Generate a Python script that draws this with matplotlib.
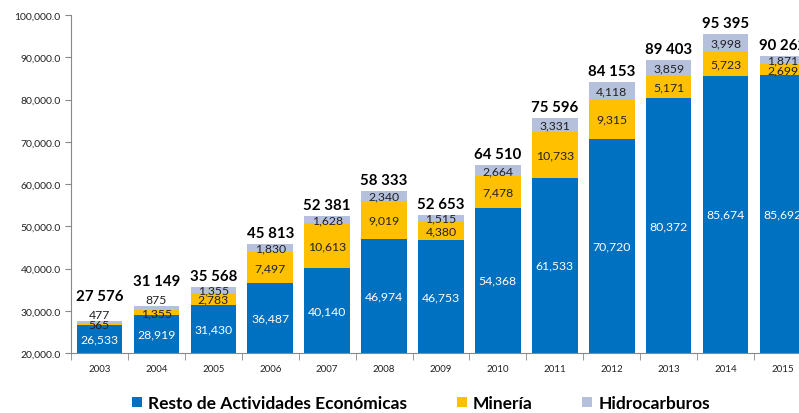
import matplotlib.pyplot as plt
import numpy as np
from matplotlib.ticker import FuncFormatter, FixedLocator

plt.rcParams["font.family"] = ["Lato", "DejaVu Sans"]

years = ["2003", "2004", "2005", "2006", "2007", "2008", "2009",
         "2010", "2011", "2012", "2013", "2014", "2015"]
resto = [26533, 28919, 31430, 36487, 40140, 46974, 46753,
         54368, 61533, 70720, 80372, 85674, 85692]
mineria = [565, 1355, 2783, 7497, 10613, 9019, 4380,
           7478, 10733, 9315, 5171, 5723, 2699]
hidro = [477, 875, 1355, 1830, 1628, 2340, 1515,
         2664, 3331, 4118, 3859, 3998, 1871]
totales = ["27 576", "31 149", "35 568", "45 813", "52 381", "58 333", "52 653",
           "64 510", "75 596", "84 153", "89 403", "95 395", "90 262"]

c_resto = "#0070C0"
c_min = "#FFC000"
c_hid = "#B4C0DC"

fig = plt.figure(figsize=(7.99, 4.14), dpi=100)
ax = fig.add_axes([71 / 799, 60 / 414, 740 / 799, 338 / 414])

x = np.arange(len(years))
w = 0.8
resto = np.array(resto)
mineria = np.array(mineria)
hidro = np.array(hidro)

ax.bar(x, resto, w, color=c_resto, label="Resto de Actividades Económicas")
ax.bar(x, mineria, w, bottom=resto, color=c_min, label="Minería")
ax.bar(x, hidro, w, bottom=resto + mineria, color=c_hid, label="Hidrocarburos")

ax.set_ylim(20000, 100000)
ax.set_xlim(-0.5, len(years) - 0.5)

fs = 8.8
# etiquetas de cada segmento
for i in range(len(years)):
    ax.text(x[i], 20000 + (resto[i] - 20000) / 2, f"{resto[i]:,}", ha="center",
            va="center", color="white", fontsize=fs)
    ax.text(x[i], resto[i] + mineria[i] / 2, f"{mineria[i]:,}", ha="center",
            va="center", color="#222222", fontsize=fs)
    top = resto[i] + mineria[i] + hidro[i]
    if hidro[i] < 1000:
        # etiqueta pequeña encima de la barra
        ax.annotate(f"{hidro[i]:,}", (x[i], top), xytext=(0, 1), textcoords="offset points",
                    ha="center", va="bottom", color="#222222", fontsize=fs)
        off = 13
    else:
        ax.text(x[i], top - hidro[i] / 2, f"{hidro[i]:,}", ha="center",
                va="center", color="#222222", fontsize=fs)
        off = 3
    ax.annotate(totales[i], (x[i], top), xytext=(0, off), textcoords="offset points",
                ha="center", va="bottom", fontsize=10.8, fontweight="bold", color="black")

ax.yaxis.set_major_formatter(FuncFormatter(lambda v, p: f"{v:,.1f}"))
ax.set_yticks(np.arange(20000, 100001, 10000))
ax.tick_params(axis="y", labelsize=7.5, length=4, color="#888888", labelcolor="#222222")

ax.set_xticks(x)
ax.set_xticklabels(years)
ax.tick_params(axis="x", length=0, labelsize=7, pad=8, labelcolor="#222222")
ax.xaxis.set_minor_locator(FixedLocator(np.arange(-0.5, len(years), 1)))
ax.tick_params(axis="x", which="minor", length=5, color="#888888")

for s in ["top", "right"]:
    ax.spines[s].set_visible(False)
for s in ["left", "bottom"]:
    ax.spines[s].set_color("#888888")

fig.legend(loc="lower center", bbox_to_anchor=(0.527, -0.033), ncol=3, frameon=False,
           handlelength=0.57, handleheight=0.57, handletextpad=0.35, columnspacing=2.85,
           prop={"size": 12.5, "weight": "bold"})

fig.savefig("out.png", dpi=100)
